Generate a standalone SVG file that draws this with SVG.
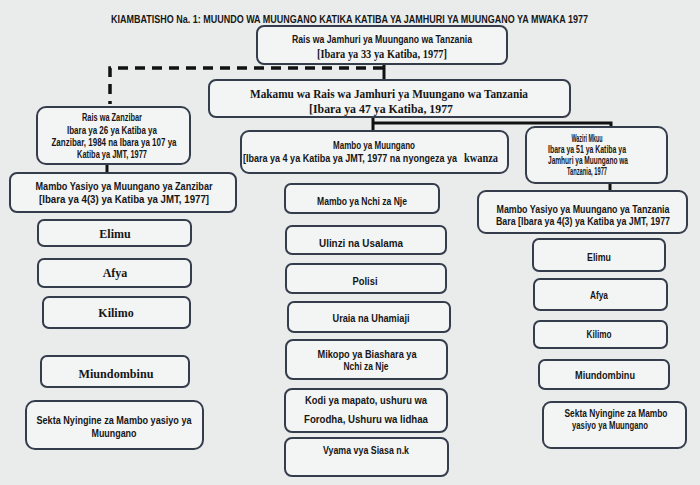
<svg xmlns="http://www.w3.org/2000/svg" width="700" height="485" viewBox="0 0 700 485">
<style>
.bg{fill:#eaecec}
.box{fill:#f3f4f4;stroke:#353d4c;stroke-width:2}
.s{font-family:"Liberation Sans Narrow","Liberation Sans",Arial,sans-serif;font-weight:bold;font-size:10px;fill:#161616;text-anchor:middle}
.r{font-family:"Liberation Serif","Times New Roman",serif;font-weight:bold;font-size:12px;fill:#161616;text-anchor:middle}
.ln{stroke:#111;stroke-width:3;fill:none}
.dash{stroke:#111;stroke-width:3.5;fill:none;stroke-dasharray:10 7}
</style>
<rect class="bg" x="0" y="0" width="700" height="485"/>
<text class="s" x="349.5" y="23" font-size="11.5" textLength="477" lengthAdjust="spacingAndGlyphs">KIAMBATISHO Na. 1: MUUNDO WA MUUNGANO KATIKA KATIBA YA JAMHURI YA MUUNGANO YA MWAKA 1977</text>

<g id="connectors">
<path class="dash" d="M383,68 H110 V104"/>
<path class="ln" d="M384,64 V80"/>
<path class="ln" d="M373,117 V131 M373,123 H611 V128"/>
<path class="ln" d="M107,164 V173"/>
<path class="ln" d="M610,183 V191"/>
</g>

<g id="rais-jmt">
<rect class="box" x="257" y="26" width="250" height="38" rx="7"/>
<text class="s" x="382" y="43" textLength="180" lengthAdjust="spacingAndGlyphs">Rais wa Jamhuri ya Muungano wa Tanzania</text>
<text class="r" x="382" y="58" font-size="11" textLength="130" lengthAdjust="spacingAndGlyphs">[Ibara ya 33 ya Katiba, 1977]</text>
</g>

<g id="makamu">
<rect class="box" x="209" y="80" width="361" height="37" rx="7"/>
<text class="r" x="389" y="98" textLength="278" lengthAdjust="spacingAndGlyphs">Makamu wa Rais wa Jamhuri ya Muungano wa Tanzania</text>
<text class="r" x="381" y="113" textLength="144" lengthAdjust="spacingAndGlyphs">[Ibara ya 47 ya Katiba, 1977</text>
</g>

<g id="rais-zanzibar">
<rect class="box" x="37" y="107" width="153" height="57" rx="9"/>
<text class="s" x="112" y="121" textLength="60" lengthAdjust="spacingAndGlyphs">Rais wa Zanzibar</text>
<text class="s" x="112" y="134" textLength="90" lengthAdjust="spacingAndGlyphs">Ibara ya 26 ya Katiba ya</text>
<text class="s" x="114" y="146" textLength="125" lengthAdjust="spacingAndGlyphs">Zanzibar, 1984 na Ibara ya 107 ya</text>
<text class="s" x="112" y="158" textLength="70" lengthAdjust="spacingAndGlyphs">Katiba ya JMT, 1977</text>
</g>

<g id="yasiyo-zanzibar">
<rect class="box" x="10" y="173" width="226" height="39" rx="7"/>
<text class="s" x="124" y="190" textLength="177" lengthAdjust="spacingAndGlyphs">Mambo Yasiyo ya Muungano ya Zanzibar</text>
<text class="s" x="124" y="203" textLength="170" lengthAdjust="spacingAndGlyphs">[Ibara ya 4(3) ya Katiba ya JMT, 1977]</text>
</g>

<g id="z-elimu"><rect class="box" x="38" y="220" width="153" height="26" rx="6"/><text class="r" x="115" y="238">Elimu</text></g>
<g id="z-afya"><rect class="box" x="38" y="259" width="153" height="28" rx="6"/><text class="r" x="115" y="277">Afya</text></g>
<g id="z-kilimo"><rect class="box" x="43" y="297" width="147" height="31" rx="6"/><text class="r" x="116" y="317">Kilimo</text></g>
<g id="z-miundombinu"><rect class="box" x="41" y="356" width="148" height="31" rx="6"/><text class="r" x="116" y="378" textLength="75" lengthAdjust="spacingAndGlyphs">Miundombinu</text></g>
<g id="z-sekta">
<rect class="box" x="26" y="401" width="177" height="48" rx="9"/>
<text class="s" x="114" y="424" textLength="155" lengthAdjust="spacingAndGlyphs">Sekta Nyingine za Mambo yasiyo ya</text>
<text class="s" x="114" y="437" textLength="45" lengthAdjust="spacingAndGlyphs">Muungano</text>
</g>

<g id="mambo-muungano">
<rect class="box" x="241" y="131" width="267" height="42" rx="8"/>
<text class="s" x="374" y="149" textLength="82" lengthAdjust="spacingAndGlyphs">Mambo ya Muungano</text>
<text class="s" x="350" y="162" textLength="214" lengthAdjust="spacingAndGlyphs">[Ibara ya 4 ya Katiba ya JMT, 1977 na nyongeza ya</text>
<text class="r" x="464" y="162" font-size="11" style="text-anchor:start" textLength="34" lengthAdjust="spacingAndGlyphs">kwanza</text>
</g>

<g id="m-nje"><rect class="box" x="285" y="184" width="154" height="29" rx="6"/><text class="s" x="362" y="205" textLength="90" lengthAdjust="spacingAndGlyphs">Mambo ya Nchi za Nje</text></g>
<g id="m-ulinzi"><rect class="box" x="286" y="226" width="160" height="28" rx="6"/><text class="s" x="361" y="247" textLength="84" lengthAdjust="spacingAndGlyphs">Ulinzi na Usalama</text></g>
<g id="m-polisi"><rect class="box" x="286" y="264" width="160" height="29" rx="6"/><text class="s" x="365" y="285" textLength="25" lengthAdjust="spacingAndGlyphs">Polisi</text></g>
<g id="m-uraia"><rect class="box" x="288" y="302" width="162" height="30" rx="6"/><text class="s" x="371" y="322" textLength="77" lengthAdjust="spacingAndGlyphs">Uraia na Uhamiaji</text></g>
<g id="m-mikopo">
<rect class="box" x="286" y="340" width="161" height="39" rx="7"/>
<text class="s" x="367" y="358" textLength="99" lengthAdjust="spacingAndGlyphs">Mikopo ya Biashara ya</text>
<text class="s" x="366" y="370" textLength="45" lengthAdjust="spacingAndGlyphs">Nchi za Nje</text>
</g>
<g id="m-kodi">
<rect class="box" x="285" y="389" width="162" height="43" rx="7"/>
<text class="s" x="366" y="404" textLength="122" lengthAdjust="spacingAndGlyphs">Kodi ya mapato, ushuru wa</text>
<text class="s" x="366" y="423" textLength="124" lengthAdjust="spacingAndGlyphs">Forodha, Ushuru wa lidhaa</text>
</g>
<g id="m-vyama"><rect class="box" x="285" y="438" width="163" height="38" rx="7"/><text class="s" x="366" y="454" textLength="86" lengthAdjust="spacingAndGlyphs">Vyama vya Siasa n.k</text></g>

<g id="waziri">
<rect class="box" x="526" y="127" width="141" height="56" rx="9"/>
<text class="s" x="587" y="142" textLength="31" lengthAdjust="spacingAndGlyphs">Waziri Mkuu</text>
<text class="s" x="587" y="153" textLength="78" lengthAdjust="spacingAndGlyphs">Ibara ya 51 ya Katiba ya</text>
<text class="s" x="588" y="164" textLength="80" lengthAdjust="spacingAndGlyphs">Jamhuri ya Muungano wa</text>
<text class="s" x="587" y="175" textLength="40" lengthAdjust="spacingAndGlyphs">Tanzania, 1977</text>
</g>

<g id="yasiyo-bara">
<rect class="box" x="478" y="191" width="209" height="42" rx="8"/>
<text class="s" x="583" y="213" textLength="173" lengthAdjust="spacingAndGlyphs">Mambo Yasiyo ya Muungano ya Tanzania</text>
<text class="s" x="583" y="225" textLength="174" lengthAdjust="spacingAndGlyphs">Bara [Ibara ya 4(3) ya Katiba ya JMT, 1977</text>
</g>

<g id="b-elimu"><rect class="box" x="533" y="239" width="132" height="32" rx="6"/><text class="s" x="599" y="261" textLength="24" lengthAdjust="spacingAndGlyphs">Elimu</text></g>
<g id="b-afya"><rect class="box" x="534" y="279" width="133" height="31" rx="6"/><text class="s" x="599" y="299" textLength="18" lengthAdjust="spacingAndGlyphs">Afya</text></g>
<g id="b-kilimo"><rect class="box" x="534" y="321" width="133" height="27" rx="6"/><text class="s" x="599" y="338" textLength="25" lengthAdjust="spacingAndGlyphs">Kilimo</text></g>
<g id="b-miundombinu"><rect class="box" x="539" y="360" width="130" height="29" rx="6"/><text class="s" x="605" y="379" textLength="60" lengthAdjust="spacingAndGlyphs">Miundombinu</text></g>
<g id="b-sekta">
<rect class="box" x="543" y="402" width="143" height="46" rx="8"/>
<text class="s" x="616" y="417" textLength="103" lengthAdjust="spacingAndGlyphs">Sekta Nyingine za Mambo</text>
<text class="s" x="610" y="429" textLength="76" lengthAdjust="spacingAndGlyphs">yasiyo ya Muungano</text>
</g>
</svg>
